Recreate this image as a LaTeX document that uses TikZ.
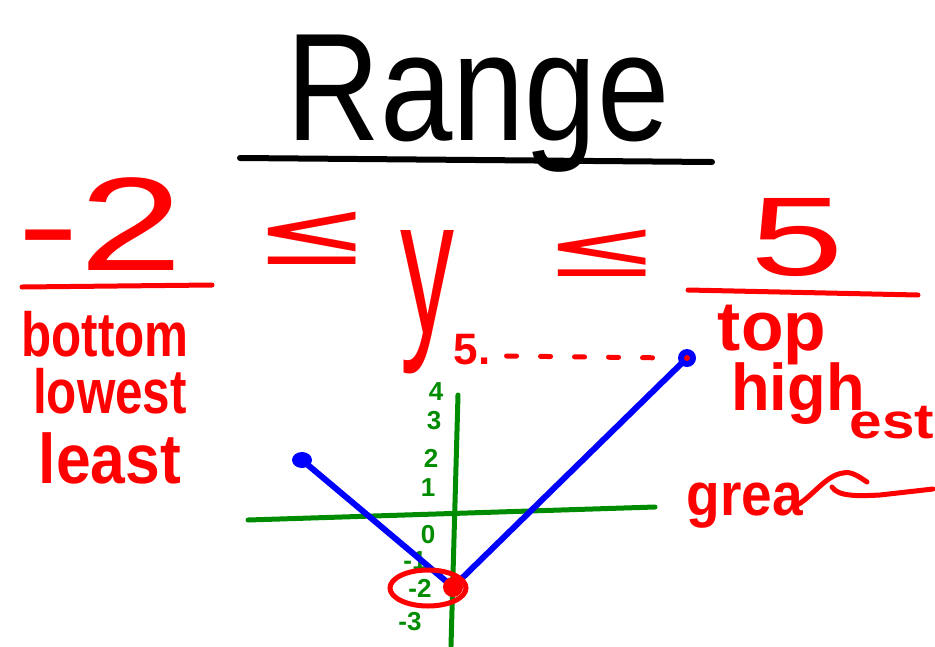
\documentclass[tikz,border=0pt]{standalone}
\usepackage{fontspec}
\setmainfont{Liberation Sans}
\newfontfamily\dejavu{DejaVu Sans}
\definecolor{hred}{RGB}{255,0,0}
\definecolor{hgreen}{RGB}{0,140,0}
\definecolor{hblue}{RGB}{0,0,255}
\newcommand{\fsz}[1]{\fontsize{#1}{#1}\selectfont}
\newcommand{\stretchy}[3]{\scalebox{#1}[#2]{#3}}
\begin{document}
\begin{tikzpicture}[x=1pt,y=-1pt,
  redtxt/.style={text=hred, inner sep=0pt},
  greentxt/.style={text=hgreen, inner sep=0pt, font=\fsz{26}\bfseries},
  redink/.style={draw=hred, line width=5pt, line cap=round, line join=round},
  greenink/.style={draw=hgreen, line width=5pt, line cap=round},
  blueink/.style={draw=hblue, line width=6pt, line cap=round, line join=round},
  blackink/.style={draw=black, line width=6pt, line cap=round}]
\useasboundingbox (0,0) rectangle (935,646);

% title
\node[inner sep=0pt, anchor=base] (title) at (478,140) {\fsz{130}\stretchy{1}{1.18}{Range}};
\coordinate (tl) at (240,158);
\coordinate (tr) at (712,162);
\draw[blackink] (tl) -- (tr);

% inequality
\node[redtxt, anchor=base] (lo) at (100,270) {\fsz{133}\stretchy{1.4}{1}{-2}};
\node[redtxt] (le1) at (312,238) {\dejavu\fsz{100}\stretchy{1.4}{0.9}{≤}};
\node[redtxt] (yv) at (427,302) {\fsz{150}\stretchy{0.72}{1.3}{y}};
\node[redtxt] (le2) at (602,253) {\dejavu\fsz{100}\stretchy{1.4}{0.8}{≤}};
\node[redtxt, anchor=base] (hi) at (797,275) {\fsz{112}\stretchy{1.5}{1}{5}};
\coordinate (ul1a) at (22,287); \coordinate (ul1b) at (212,285);
\coordinate (ul2a) at (688,290); \coordinate (ul2b) at (918,295);
\draw[redink] (ul1a) -- (ul1b);
\draw[redink] (ul2a) -- (ul2b);

% left words
\node[redtxt, anchor=base] (bottom) at (105,356) {\fsz{52}\bfseries\stretchy{0.95}{1.2}{bottom}};
\node[redtxt, anchor=base] (lowest) at (110,413) {\fsz{52}\bfseries\stretchy{0.95}{1.2}{lowest}};
\node[redtxt, anchor=base] (least) at (110,483) {\fsz{52}\bfseries\stretchy{1.2}{1.35}{least}};

% right words
\node[redtxt, anchor=base] (top) at (772,350) {\fsz{58}\bfseries\stretchy{1.2}{1.2}{top}};
\node[redtxt, anchor=base] (high) at (798,410) {\fsz{55}\bfseries\stretchy{1.15}{1.2}{high}};
\node[redtxt, anchor=base] (est) at (892,438) {\fsz{45}\bfseries\stretchy{1.3}{1.1}{est}};
\node[redtxt, anchor=base] (grea) at (745,515) {\fsz{55}\bfseries\stretchy{1}{1.1}{grea}};
\coordinate (sq1) at (797,505);
\coordinate (sq2) at (843,473);
\coordinate (sq3) at (867,482);
\coordinate (sq4) at (832,487);
\coordinate (sq5) at (880,495);
\coordinate (sq6) at (933,489);
\draw[redink] (sq1) .. controls (812,497) and (826,475) .. (sq2) .. controls (851,471) and (858,476) .. (sq3);
\draw[redink] (sq4) .. controls (838,497) and (860,496) .. (sq5) -- (sq6);

% axes
\coordinate (xa) at (248,520); \coordinate (xb) at (655,507);
\coordinate (ya) at (458,395); \coordinate (yb) at (451,646);
\draw[greenink] (xa) -- (xb);
\draw[greenink] (ya) -- (yb);
\node[greentxt] (g4) at (436,392) {4};
\node[greentxt] (g3) at (434,421) {3};
\node[greentxt] (g2) at (431,458) {2};
\node[greentxt] (g1) at (428,488) {1};
\node[greentxt] (g0) at (428,535) {0};
\node[greentxt] (gm1) at (415,561) {-1};
\node[greentxt] (gm2) at (420,588) {-2};
\node[greentxt] (gm3) at (410,622) {-3};

% label 5 and dotted guide
\node[redtxt] (five) at (472,350) {\fsz{44}\bfseries 5.};

% graph
\coordinate (pl) at (302,460);
\coordinate (pv) at (453,587);
\coordinate (pr) at (687,358);
\draw[redink, dash pattern=on 10pt off 24pt] (five.east) ++(16,6) -- ([xshift=-15pt]pr);
\draw[blueink] (pl) -- (pv) -- (pr);
\fill[hblue] (pl) ellipse (10 and 8);
\fill[hblue] (pr) circle (9);
\fill[hred] (pr) circle (3);
\draw[draw=hred, line width=5pt] (428,588) ellipse (38 and 18);
\fill[hred] (pv) circle (10);
\end{tikzpicture}
\end{document}
